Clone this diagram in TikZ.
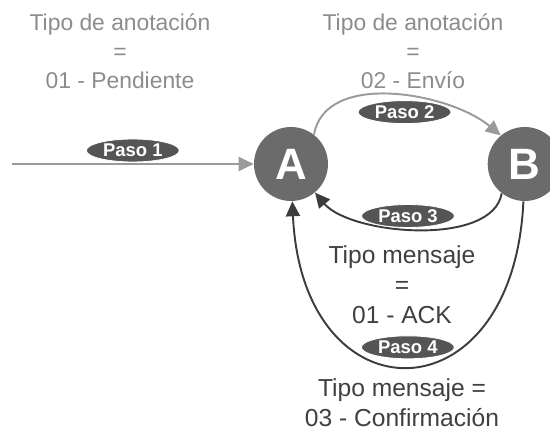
\documentclass[tikz,border=0pt]{standalone}
\usepackage{fontspec}
\setmainfont{Liberation Sans}
\usepackage{xcolor}
\usetikzlibrary{positioning,shapes.geometric,arrows.meta}

\definecolor{stategray}{HTML}{6B6B6B}
\definecolor{pasogray}{HTML}{555555}
\definecolor{lightline}{HTML}{9A9A9A}
\definecolor{darkline}{HTML}{3C3C3C}
\definecolor{toptext}{HTML}{8C8C8C}
\definecolor{bottext}{HTML}{404040}

\tikzset{
  state/.style={circle, fill=stategray, minimum size=1.48cm, inner sep=0pt, text=white, font=\fontsize{25}{25}\selectfont\bfseries},
  paso/.style={ellipse, fill=pasogray, draw=white, line width=0.5pt, text=white, minimum width=1.86cm, minimum height=0.46cm, inner sep=0pt, font=\fontsize{10.5}{10.5}\selectfont\bfseries},
}

\begin{document}
\begin{tikzpicture}[>={Triangle[length=8.5pt,width=8pt]}, every node/.style={font=\fontsize{13}{16.5}\selectfont}]
    \useasboundingbox (0,0) rectangle (11,-8.7);
    \clip (0,0) rectangle (11,-8.7);

    % States A and B
    \node[state] (A) at (5.82,-3.28) {A};
    \node[state, right=3.18cm of A] (B) {B};

    % Annotation types
    \node[text=toptext, align=center] (pendiente) at (2.4,-1.02) {Tipo de anotación\\=\\01 - Pendiente};
    \node[text=toptext, align=center] (envio) at (8.26,-1.02) {Tipo de anotación\\=\\02 - Envío};

    % Paso 1
    \coordinate (start) at (0.24,-3.28);
    \draw[->, line width=1.1pt, lightline] (start) -- node[paso, yshift=0.27cm] {Paso 1} (A);

    % Paso 2
    \draw[->, line width=1.1pt, lightline] (A.52) to[out=80, in=140, looseness=0.9] node[paso, pos=0.55, yshift=-0.32cm] {Paso 2} (B.130);

    % Paso 3
    \draw[->, line width=1.1pt, darkline] (B.232) to[out=-100, in=-50, looseness=0.75] node[paso, xshift=-0.2cm, yshift=0.26cm] {Paso 3} (A.-50);

    % Paso 4
    \draw[->, line width=1.1pt, darkline] (B.-92) .. controls +(-0.2,-4.4) and +(0.2,-4.4) .. node[paso, yshift=0.38cm] {Paso 4} (A.-88);

    % Message types
    \node[text=bottext, align=center, font=\fontsize{14}{17}\selectfont] (ack) at (8.04,-5.7) {Tipo mensaje\\=\\01 - ACK};
    \node[text=bottext, align=center, font=\fontsize{14}{17}\selectfont] (confirma) at (8.04,-8.06) {Tipo mensaje =\\03 - Confirmación};
\end{tikzpicture}
\end{document}
